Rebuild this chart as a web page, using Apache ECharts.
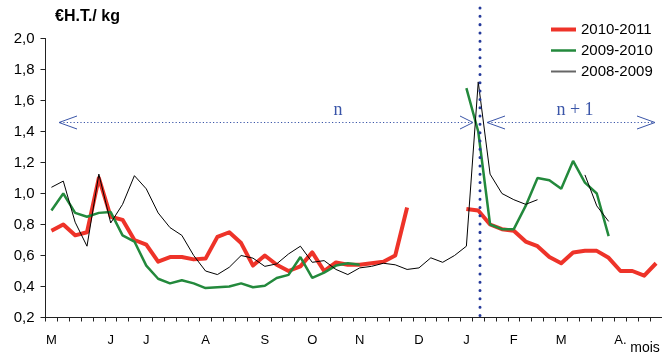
<!DOCTYPE html>
<html>
<head>
<meta charset="utf-8">
<script src="https://cdn.jsdelivr.net/npm/echarts@6/dist/echarts.min.js"></script>
<style>
html,body{margin:0;padding:0;background:#fff;}
#chart{width:662px;height:356px;}
</style>
</head>
<body>
<div id="chart"></div>
<script>
// Weekly categories (52 weeks, May -> April)
var weeks = [];
for (var w = 1; w <= 52; w++) weeks.push('S' + w);

// Month labels and the week index where each is shown
var monthLabels = ['M', 'J', 'J', 'A', 'S', 'O', 'N', 'D', 'J', 'F', 'M', 'A.'];
var monthIndex  = [0, 5, 8, 13, 18, 22, 26, 31, 35, 39, 43, 48];

// Y axis tick labels
var yTicks = [0.2, 0.4, 0.6, 0.8, 1.0, 1.2, 1.4, 1.6, 1.8, 2.0];

var seriesNames = ['2010-2011', '2009-2010', '2008-2009'];

var s2010_2011 = [0.76, 0.80, 0.73, 0.75, 1.10, 0.85, 0.83, 0.70, 0.67, 0.56,
  0.59, 0.59, 0.575, 0.58, 0.72, 0.75, 0.68, 0.535, 0.60, 0.54,
  0.50, 0.53, 0.62, 0.50, 0.555, 0.54, 0.54, 0.55, 0.56, 0.60,
  0.91, null, null, null, null, 0.90, 0.89, 0.80, 0.77, 0.76,
  0.69, 0.66, 0.59, 0.55, 0.62, 0.63, 0.63, 0.585, 0.50, 0.50,
  0.47, 0.55];

var s2009_2010 = [0.89, 1.00, 0.875, 0.85, 0.875, 0.88, 0.73, 0.69, 0.535, 0.45,
  0.42, 0.44, 0.42, 0.39, 0.395, 0.40, 0.42, 0.395, 0.405, 0.455,
  0.475, 0.59, 0.455, 0.49, 0.535, 0.55, 0.54, null, null, null,
  null, null, null, null, null, 1.68, 1.40, 0.80, 0.77, 0.77,
  0.92, 1.10, 1.085, 1.03, 1.21, 1.07, 1.00, 0.725, null, null,
  null, null];

var s2008_2009 = [1.04, 1.08, 0.815, 0.66, 1.125, 0.81, 0.93, 1.115, 1.03, 0.875,
  0.78, 0.73, 0.60, 0.50, 0.477, 0.524, 0.60, 0.583, 0.53, 0.546,
  0.61, 0.66, 0.556, 0.567, 0.51, 0.477, 0.52, 0.53, 0.55, 0.54,
  0.51, 0.52, 0.585, 0.556, 0.60, 0.66, 1.72, 1.125, 1.00, 0.96,
  0.93, 0.96, null, null, null, 1.12, 0.92, 0.82, null, null,
  null, null];

var RED = '#EE3329', GREEN = '#23893C', BLACK = '#000000', BLUE = '#3A55A8', NAVY = '#24399A';
var NOSYM = {color: 'rgba(0,0,0,0)', borderColor: 'rgba(0,0,0,0)', borderWidth: 0};

var chart = echarts.init(document.getElementById('chart'), null, {renderer: 'canvas'});

var option = {
  animation: false,
  backgroundColor: '#ffffff',
  textStyle: {fontFamily: 'Liberation Sans, Arial, sans-serif'},
  grid: {left: 45.5, right: -17, top: 38.5, bottom: 38.5, containLabel: false},
  legend: {
    orient: 'vertical',
    left: 544, top: 17,
    itemWidth: 25, itemHeight: 12, itemGap: 6,
    textStyle: {fontSize: 15, color: '#000', fontFamily: 'Liberation Sans, Arial, sans-serif'},
    data: [
      {name: seriesNames[0], lineStyle: {width: 4, color: RED}, itemStyle: NOSYM},
      {name: seriesNames[1], lineStyle: {width: 2.5, color: GREEN}, itemStyle: NOSYM},
      {name: seriesNames[2], lineStyle: {width: 2, color: '#666'}, itemStyle: NOSYM}
    ]
  },
  xAxis: {
    type: 'category',
    data: weeks,
    boundaryGap: true,
    axisLine: {lineStyle: {color: '#222', width: 1}},
    axisTick: {show: true, interval: 0, length: 4, inside: false, lineStyle: {color: '#222'}},
    axisLabel: {
      interval: function (idx) { return monthIndex.indexOf(idx) >= 0; },
      formatter: function (val, idx) {
        var k = monthIndex.indexOf(idx);
        return k >= 0 ? monthLabels[k] : '';
      },
      margin: 16, fontSize: 13, color: '#000'
    },
    splitLine: {show: false}
  },
  yAxis: {
    type: 'value',
    min: yTicks[0], max: yTicks[yTicks.length - 1], interval: 0.2,
    axisLine: {show: true, lineStyle: {color: '#222', width: 1}},
    axisTick: {show: true, length: 5, lineStyle: {color: '#222'}},
    axisLabel: {
      margin: 11, fontSize: 15, color: '#000',
      formatter: function (v) { return v.toFixed(1).replace('.', ','); }
    },
    splitLine: {show: false}
  },
  series: [
    {name: seriesNames[0], type: 'line', data: s2010_2011, symbol: 'none', connectNulls: false,
     lineStyle: {color: RED, width: 4, join: 'round'}, itemStyle: {color: RED}, z: 2},
    {name: seriesNames[1], type: 'line', data: s2009_2010, symbol: 'none', connectNulls: false,
     lineStyle: {color: GREEN, width: 2.5}, itemStyle: {color: GREEN}, z: 3},
    {name: seriesNames[2], type: 'line', data: s2008_2009, symbol: 'none', connectNulls: false,
     lineStyle: {color: BLACK, width: 1}, itemStyle: {color: '#666'}, z: 4}
  ],
  graphic: [
    {type: 'text', left: 55, top: 9, style: {text: '€H.T./ kg', font: 'bold 16px Liberation Sans, Arial, sans-serif', fill: '#000'}},
    {type: 'text', x: 645, y: 348, style: {text: 'mois', font: '14px Liberation Sans, Arial, sans-serif', fill: '#000', textAlign: 'center', textVerticalAlign: 'middle'}},
    // vertical dotted separator (January)
    {type: 'line', z: 10, shape: {x1: 480, y1: 8, x2: 480, y2: 317}, style: {stroke: NAVY, lineWidth: 3, lineDash: [0.01, 8.3], lineCap: 'round'}},
    // arrow n
    {type: 'line', shape: {x1: 60, y1: 122.5, x2: 472, y2: 122.5}, style: {stroke: BLUE, lineWidth: 1.2, lineDash: [1.2, 2.2]}},
    {type: 'polyline', shape: {points: [[77, 116], [59, 122.5], [77, 129]]}, style: {stroke: BLUE, fill: null, lineWidth: 1}},
    {type: 'polyline', shape: {points: [[460, 116], [473, 122.5], [460, 129]]}, style: {stroke: BLUE, fill: null, lineWidth: 1}},
    {type: 'text', x: 338, y: 110, style: {text: 'n', font: '18px Liberation Serif, Times New Roman, serif', fill: BLUE, textAlign: 'center', textVerticalAlign: 'middle'}},
    // arrow n + 1
    {type: 'line', shape: {x1: 488, y1: 122.5, x2: 654, y2: 122.5}, style: {stroke: BLUE, lineWidth: 1.2, lineDash: [1.2, 2.2]}},
    {type: 'polyline', shape: {points: [[505, 116], [487, 122.5], [505, 129]]}, style: {stroke: BLUE, fill: null, lineWidth: 1}},
    {type: 'polyline', shape: {points: [[637, 116], [655, 122.5], [637, 129]]}, style: {stroke: BLUE, fill: null, lineWidth: 1}},
    {type: 'text', x: 575, y: 110, style: {text: 'n + 1', font: '18px Liberation Serif, Times New Roman, serif', fill: BLUE, textAlign: 'center', textVerticalAlign: 'middle'}}
  ]
};
chart.setOption(option);
</script>
</body>
</html>
